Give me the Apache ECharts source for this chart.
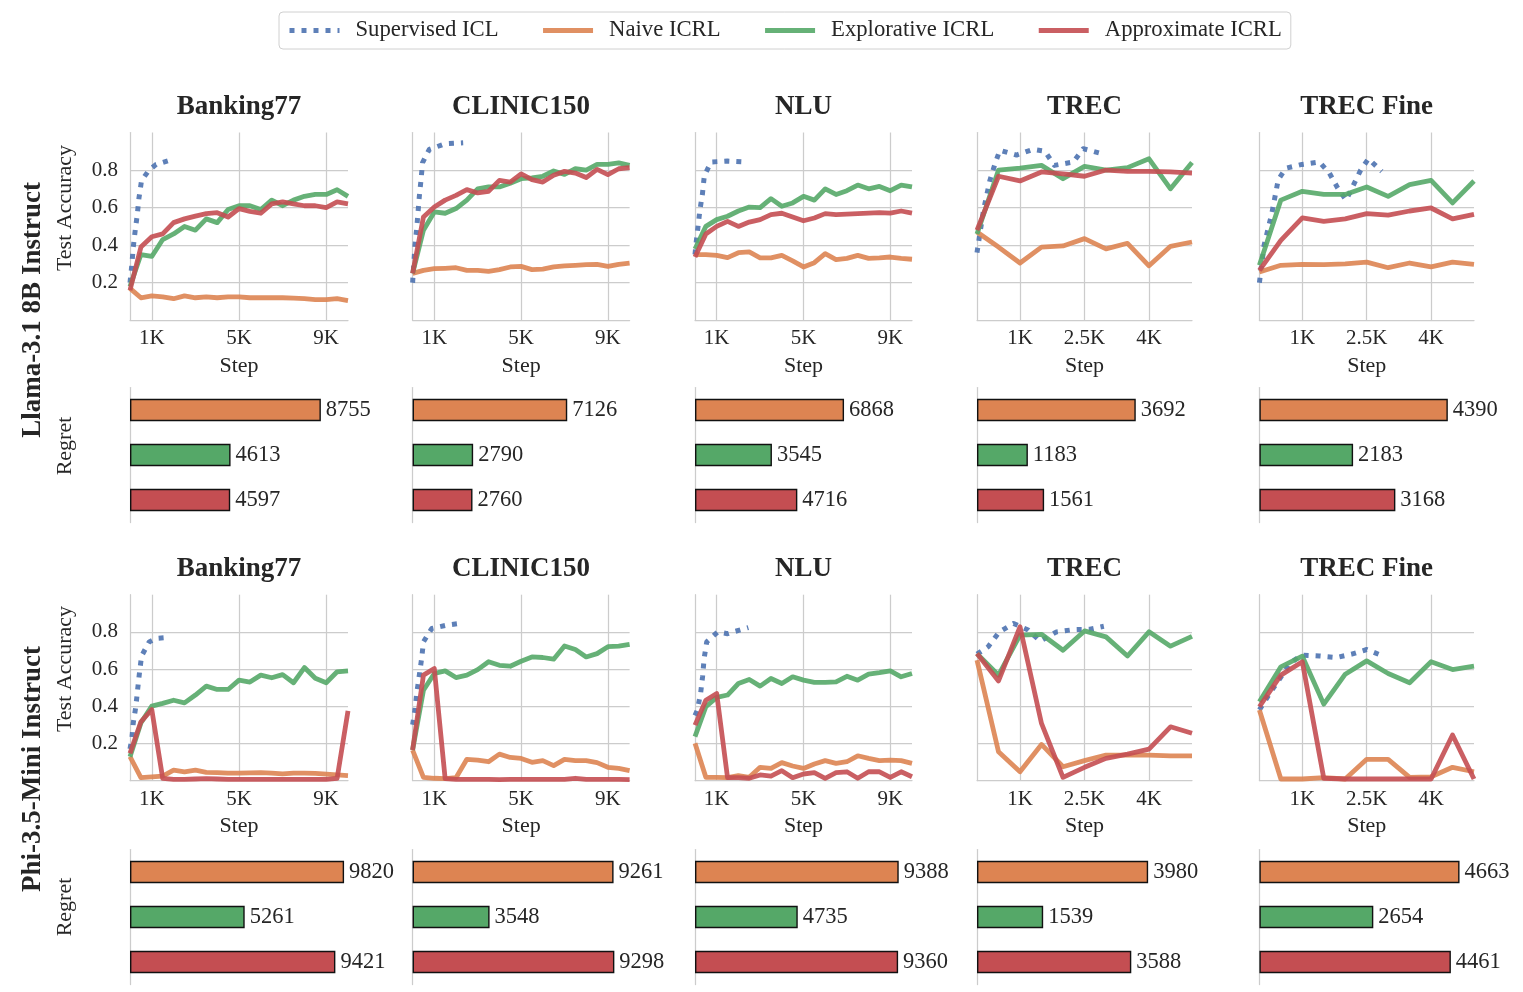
<!DOCTYPE html>
<html><head><meta charset="utf-8">
<script src="https://cdn.jsdelivr.net/npm/echarts@6/dist/echarts.min.js"></script>
<style>html,body{margin:0;padding:0;background:#fff}#c{width:1523px;height:992px}</style>
</head><body><div id="c"></div>
<script>
// ---------------- DATA ----------------
const DATASETS = ['Banking77', 'CLINIC150', 'NLU', 'TREC', 'TREC Fine'];
const MODELS = ['Llama-3.1 8B Instruct', 'Phi-3.5-Mini Instruct'];
const SERIES_NAMES = ['Supervised ICL', 'Naive ICRL', 'Explorative ICRL', 'Approximate ICRL'];
const STEPS_10K = [0,500,1000,1500,2000,2500,3000,3500,4000,4500,5000,5500,6000,6500,7000,7500,8000,8500,9000,9500,10000];
const STEPS_5K = [0,500,1000,1500,2000,2500,3000,3500,4000,4500,5000];
const X_TICKS_10K = [1000, 5000, 9000];
const X_TICKS_5K = [1000, 2500, 4000];
const Y_TICKS = [0.2, 0.4, 0.6, 0.8];

// Llama-3.1 8B Instruct
const L_B77_sup = [[0,0.2],[80,0.29],[150,0.39],[230,0.47],[330,0.56],[410,0.65],[530,0.745],[880,0.80],[1200,0.83],[1750,0.85]];
const L_B77_naive = [0.17,0.12,0.13,0.125,0.115,0.13,0.12,0.125,0.12,0.125,0.125,0.12,0.12,0.12,0.12,0.118,0.115,0.11,0.11,0.115,0.105];
const L_B77_expl = [0.18,0.35,0.34,0.43,0.46,0.50,0.48,0.54,0.52,0.59,0.61,0.61,0.59,0.64,0.61,0.64,0.66,0.67,0.67,0.695,0.66];
const L_B77_approx = [0.16,0.39,0.445,0.46,0.52,0.54,0.555,0.568,0.573,0.55,0.595,0.58,0.57,0.62,0.63,0.62,0.61,0.61,0.60,0.63,0.62];
const L_B77_regret = [8755, 4613, 4597];

const L_CL_sup = [[0,0.2],[110,0.4],[190,0.49],[310,0.66],[390,0.75],[460,0.84],[770,0.91],[1490,0.94],[2330,0.945]];
const L_CL_naive = [0.25,0.266,0.275,0.277,0.28,0.266,0.266,0.26,0.27,0.284,0.287,0.27,0.273,0.284,0.29,0.293,0.296,0.298,0.287,0.298,0.305];
const L_CL_expl = [0.25,0.48,0.577,0.57,0.595,0.64,0.70,0.71,0.71,0.73,0.754,0.758,0.767,0.795,0.777,0.807,0.80,0.83,0.83,0.838,0.825];
const L_CL_approx = [0.25,0.55,0.603,0.64,0.665,0.696,0.678,0.687,0.745,0.736,0.78,0.749,0.736,0.772,0.793,0.784,0.76,0.804,0.776,0.807,0.813];
const L_CL_regret = [7126, 2790, 2760];

const L_NLU_sup = [[0,0.35],[50,0.41],[140,0.5],[230,0.59],[340,0.67],[430,0.77],[740,0.843],[1490,0.848],[2300,0.843]];
const L_NLU_naive = [0.35,0.35,0.346,0.334,0.36,0.364,0.332,0.332,0.346,0.316,0.284,0.307,0.355,0.323,0.33,0.346,0.33,0.332,0.337,0.33,0.325];
const L_NLU_expl = [0.38,0.50,0.536,0.554,0.582,0.603,0.60,0.648,0.607,0.625,0.66,0.64,0.70,0.67,0.69,0.72,0.70,0.713,0.69,0.72,0.71];
const L_NLU_approx = [0.337,0.46,0.50,0.527,0.50,0.523,0.536,0.563,0.57,0.55,0.53,0.545,0.568,0.563,0.565,0.568,0.571,0.573,0.571,0.582,0.571];
const L_NLU_regret = [6868, 3545, 4716];

const L_TREC_sup = [[0,0.36],[150,0.585],[300,0.745],[420,0.834],[530,0.905],[920,0.88],[1300,0.91],[1580,0.90],[1800,0.825],[2240,0.843],[2470,0.914],[2860,0.89]];
const L_TREC_naive = [0.47,0.39,0.305,0.39,0.396,0.435,0.38,0.41,0.29,0.394,0.417];
const L_TREC_expl = [0.46,0.80,0.81,0.825,0.754,0.82,0.80,0.813,0.86,0.70,0.84];
const L_TREC_approx = [0.48,0.767,0.742,0.79,0.78,0.767,0.80,0.793,0.793,0.79,0.784];
const L_TREC_regret = [3692, 1183, 1561];

const L_TF_sup = [[0,0.2],[110,0.4],[290,0.57],[440,0.75],[620,0.81],[990,0.83],[1400,0.843],[1630,0.784],[1820,0.706],[2020,0.64],[2190,0.72],[2360,0.80],[2540,0.86],[2850,0.793]];
const L_TF_naive = [0.257,0.293,0.298,0.296,0.30,0.31,0.28,0.305,0.284,0.31,0.298];
const L_TF_expl = [0.293,0.64,0.687,0.67,0.67,0.71,0.66,0.722,0.745,0.625,0.742];
const L_TF_approx = [0.266,0.426,0.545,0.527,0.54,0.568,0.56,0.582,0.598,0.54,0.564];
const L_TF_regret = [4390, 2183, 3168];

// Phi-3.5-Mini Instruct
const P_B77_sup = [[0,0.17],[80,0.22],[150,0.31],[270,0.40],[350,0.49],[430,0.575],[530,0.67],[880,0.746],[1200,0.765],[1750,0.77]];
const P_B77_naive = [0.128,0.015,0.02,0.024,0.056,0.047,0.056,0.044,0.042,0.04,0.04,0.041,0.042,0.04,0.036,0.04,0.04,0.038,0.034,0.03,0.026];
const P_B77_expl = [0.128,0.31,0.40,0.415,0.432,0.418,0.46,0.508,0.49,0.49,0.54,0.53,0.567,0.553,0.57,0.526,0.608,0.55,0.526,0.585,0.59];
const P_B77_approx = [0.146,0.316,0.382,0.012,0.006,0.006,0.008,0.01,0.008,0.006,0.006,0.006,0.006,0.006,0.006,0.006,0.006,0.006,0.006,0.012,0.375];
const P_B77_regret = [9820, 5261, 9421];

const P_CL_sup = [[0,0.3],[110,0.38],[190,0.468],[310,0.567],[420,0.66],[500,0.746],[880,0.818],[1570,0.836],[2330,0.848]];
const P_CL_naive = [0.164,0.017,0.012,0.01,0.015,0.114,0.11,0.101,0.142,0.124,0.119,0.098,0.107,0.08,0.114,0.107,0.107,0.096,0.071,0.065,0.053];
const P_CL_expl = [0.164,0.486,0.576,0.59,0.554,0.567,0.597,0.639,0.62,0.615,0.642,0.665,0.662,0.653,0.724,0.705,0.665,0.683,0.72,0.723,0.733];
const P_CL_approx = [0.164,0.567,0.603,0.01,0.006,0.006,0.006,0.006,0.005,0.006,0.006,0.006,0.006,0.006,0.006,0.012,0.006,0.006,0.006,0.006,0.005];
const P_CL_regret = [9261, 3548, 9298];

const P_NLU_sup = [[0,0.35],[110,0.38],[260,0.47],[350,0.56],[420,0.656],[540,0.746],[1050,0.8],[1500,0.79],[1770,0.8],[2460,0.823]];
const P_NLU_naive = [0.2,0.017,0.017,0.015,0.026,0.017,0.071,0.065,0.096,0.078,0.065,0.089,0.107,0.092,0.101,0.133,0.119,0.107,0.11,0.107,0.092];
const P_NLU_expl = [0.236,0.397,0.447,0.46,0.522,0.544,0.508,0.549,0.522,0.558,0.54,0.528,0.528,0.531,0.561,0.54,0.572,0.58,0.59,0.558,0.576];
const P_NLU_approx = [0.298,0.432,0.468,0.015,0.015,0.012,0.03,0.024,0.053,0.015,0.035,0.042,0.012,0.042,0.047,0.012,0.047,0.047,0.017,0.047,0.02];
const P_NLU_regret = [9388, 4735, 9360];

const P_TREC_sup = [[0,0.68],[260,0.72],[520,0.80],[850,0.845],[1190,0.81],[1470,0.75],[1850,0.80],[2240,0.812],[2630,0.814],[2950,0.83]];
const P_TREC_naive = [0.648,0.155,0.047,0.194,0.074,0.107,0.137,0.137,0.137,0.132,0.132];
const P_TREC_expl = [0.683,0.567,0.782,0.787,0.701,0.805,0.773,0.67,0.80,0.723,0.776];
const P_TREC_approx = [0.683,0.536,0.827,0.307,0.017,0.071,0.119,0.142,0.169,0.289,0.254];
const P_TREC_regret = [3980, 1539, 3588];

const P_TF_sup = [[0,0.38],[290,0.486],[480,0.55],[710,0.63],[980,0.675],[1400,0.67],[1800,0.662],[2150,0.68],[2500,0.705],[2880,0.67]];
const P_TF_naive = [0.379,0.008,0.008,0.015,0.008,0.114,0.114,0.017,0.02,0.071,0.047];
const P_TF_expl = [0.424,0.612,0.669,0.411,0.572,0.644,0.576,0.526,0.639,0.597,0.615];
const P_TF_approx = [0.397,0.567,0.639,0.012,0.008,0.008,0.008,0.008,0.008,0.245,0.008];
const P_TF_regret = [4663, 2654, 4461];

// ---------------- LAYOUT / STYLE ----------------
const FONT = '"Liberation Serif", "DejaVu Serif", serif';
const TXT = '#262626';
const GRIDC = '#cccccc';
const COLORS = ['#4C72B0', '#DD8452', '#55A868', '#C44E52'];
const colLeft = [130, 412.6, 695, 977, 1259.4];
const colW = [218, 217, 217, 215, 214.6];
const lineTop = [132.5, 594.7], lineH = [187.8, 185.8];
const barTop = [387.5, 849.5], barH = 135;
const titleY = [107.5, 569.5];

const rows = [
  [
    [L_B77_sup, L_B77_naive, L_B77_expl, L_B77_approx, L_B77_regret],
    [L_CL_sup, L_CL_naive, L_CL_expl, L_CL_approx, L_CL_regret],
    [L_NLU_sup, L_NLU_naive, L_NLU_expl, L_NLU_approx, L_NLU_regret],
    [L_TREC_sup, L_TREC_naive, L_TREC_expl, L_TREC_approx, L_TREC_regret],
    [L_TF_sup, L_TF_naive, L_TF_expl, L_TF_approx, L_TF_regret]
  ],
  [
    [P_B77_sup, P_B77_naive, P_B77_expl, P_B77_approx, P_B77_regret],
    [P_CL_sup, P_CL_naive, P_CL_expl, P_CL_approx, P_CL_regret],
    [P_NLU_sup, P_NLU_naive, P_NLU_expl, P_NLU_approx, P_NLU_regret],
    [P_TREC_sup, P_TREC_naive, P_TREC_expl, P_TREC_approx, P_TREC_regret],
    [P_TF_sup, P_TF_naive, P_TF_expl, P_TF_approx, P_TF_regret]
  ]
];

const grid = [], xAxis = [], yAxis = [], series = [], graphic = [];
const axisLineStyle = {color: GRIDC, width: 1.25};

// line panels
for (let r = 0; r < 2; r++) {
  for (let c = 0; c < 5; c++) {
    const g = grid.length;
    const short = c >= 3;
    const steps = short ? STEPS_5K : STEPS_10K;
    const xt = short ? X_TICKS_5K : X_TICKS_10K;
    grid.push({left: colLeft[c], top: lineTop[r], width: colW[c], height: lineH[r]});
    xAxis.push({
      type: 'value', gridIndex: g, min: 0, max: short ? 5000 : 10000,
      axisLine: {show: true, lineStyle: axisLineStyle},
      axisTick: {show: false, customValues: xt},
      axisLabel: {customValues: xt, formatter: v => (v / 1000) + 'K', fontFamily: FONT, fontSize: 21, color: TXT, margin: 8},
      splitLine: {show: true, lineStyle: {color: GRIDC, width: 1.25}},
      name: 'Step', nameLocation: 'middle', nameGap: 35,
      nameTextStyle: {fontFamily: FONT, fontSize: 22, color: TXT}
    });
    yAxis.push({
      type: 'value', gridIndex: g, min: 0, max: 1,
      axisLine: {show: true, lineStyle: axisLineStyle},
      axisTick: {show: false, customValues: Y_TICKS},
      axisLabel: {show: c === 0, customValues: Y_TICKS, formatter: v => v.toFixed(1), fontFamily: FONT, fontSize: 21, color: TXT, margin: 12},
      splitLine: {show: true, lineStyle: {color: GRIDC, width: 1.25}}
    });
    const d = rows[r][c];
    for (let k = 0; k < 4; k++) {
      const data = k === 0 ? d[0] : steps.map((x, i) => [x, d[k][i]]);
      series.push({
        type: 'line', name: SERIES_NAMES[k], xAxisIndex: g, yAxisIndex: g,
        data, symbol: 'none', showSymbol: false, silent: true, z: 3 + k,
        itemStyle: {color: COLORS[k]},
        lineStyle: {color: COLORS[k], width: k === 0 ? 5 : 4.8, opacity: 0.9,
          type: k === 0 ? [5, 7] : 'solid', cap: 'butt', join: 'round'}
      });
    }
    graphic.push({type: 'text', x: colLeft[c] + colW[c] / 2, y: titleY[r], silent: true,
      style: {text: DATASETS[c], fontFamily: FONT, fontSize: 27, fontWeight: 'bold', fill: TXT, align: 'center', verticalAlign: 'middle'}});
  }
}
// bar panels
for (let r = 0; r < 2; r++) {
  for (let c = 0; c < 5; c++) {
    const g = grid.length;
    const short = c >= 3;
    grid.push({left: colLeft[c], top: barTop[r], width: colW[c], height: barH});
    xAxis.push({type: 'value', gridIndex: g, min: 0, max: short ? 5000 : 10000, show: false});
    yAxis.push({
      type: 'category', gridIndex: g, data: SERIES_NAMES.slice(1), inverse: true,
      axisLine: {show: true, lineStyle: axisLineStyle}, axisTick: {show: false},
      axisLabel: {show: false}, splitLine: {show: false}
    });
    const vals = rows[r][c][4];
    series.push({
      type: 'bar', name: 'Regret', xAxisIndex: g, yAxisIndex: g, silent: true,
      barWidth: 22.5,
      data: vals.map((v, i) => ({value: v, itemStyle: {color: COLORS[i + 1]}})),
      itemStyle: {borderColor: '#111', borderWidth: 1.4},
      label: {show: true, position: 'right', distance: 5, fontFamily: FONT, fontSize: 22.5, color: TXT}
    });
  }
}
// side labels
const sideText = (text, x, y, size, bold) => ({
  type: 'text', x, y, rotation: Math.PI / 2, silent: true,
  style: {text, fontFamily: FONT, fontSize: size, fontWeight: bold ? 'bold' : 'normal', fill: TXT, align: 'center', verticalAlign: 'middle'}
});
graphic.push(sideText(MODELS[0], 33, 310, 27, true));
graphic.push(sideText(MODELS[1], 33, 769, 27, true));
graphic.push(sideText('Test Accuracy', 65, 208, 22, false));
graphic.push(sideText('Test Accuracy', 65, 669, 22, false));
graphic.push(sideText('Regret', 65, 446, 22, false));
graphic.push(sideText('Regret', 65, 907, 22, false));

const chart = echarts.init(document.getElementById('c'));
chart.setOption({
  animation: false,
  backgroundColor: '#ffffff',
  legend: {
    left: 279, top: 12, data: SERIES_NAMES,
    itemWidth: 50, itemHeight: 14, itemGap: 42,
    padding: [7, 9, 7, 8],
    borderColor: '#d0d0d0', borderWidth: 1, borderRadius: 4,
    lineStyle: {width: 5},
    itemStyle: {opacity: 0},
    textStyle: {fontFamily: FONT, fontSize: 22.7, color: TXT, padding: [0, 0, 0, 11]},
    selectedMode: false
  },
  grid, xAxis, yAxis, series, graphic
});
</script></body></html>
